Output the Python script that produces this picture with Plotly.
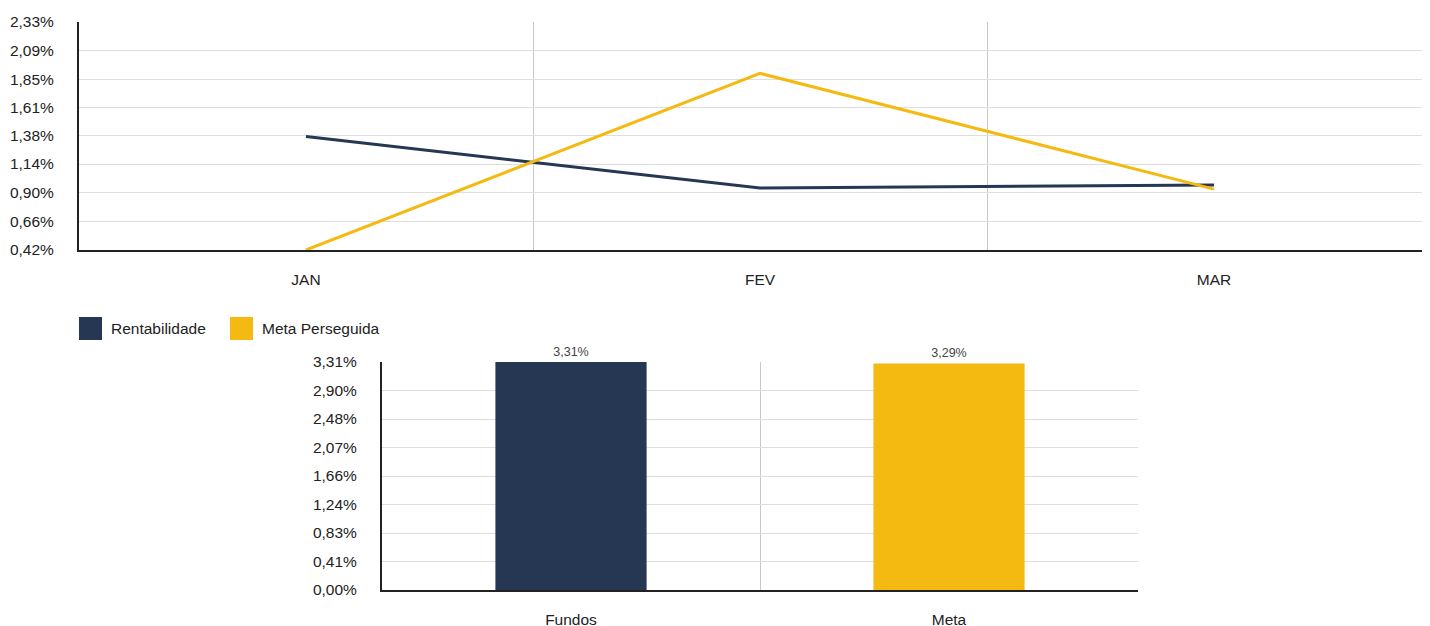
import plotly.graph_objects as go

months = ["JAN", "FEV", "MAR"]
rentabilidade = [1.37, 0.94, 0.965]
meta_perseguida = [0.42, 1.90, 0.93]

bar_categories = ["Fundos", "Meta"]
bar_values = [3.31, 3.29]
bar_labels = ["3,31%", "3,29%"]

series_names = ["Rentabilidade", "Meta Perseguida"]

top_ticks = [0.42, 0.66, 0.90, 1.14, 1.38, 1.61, 1.85, 2.09, 2.33]
top_tick_text = ["0,42%", "0,66%", "0,90%", "1,14%", "1,38%", "1,61%", "1,85%", "2,09%", "2,33%"]
bottom_ticks = [0.0, 0.41375, 0.8275, 1.24125, 1.655, 2.06875, 2.4825, 2.89625, 3.31]
bottom_tick_text = ["0,00%", "0,41%", "0,83%", "1,24%", "1,66%", "2,07%", "2,48%", "2,90%", "3,31%"]

NAVY = "#263754"
YELLOW = "#F4BA11"
GRID = "#dedede"
FONT = "Liberation Sans, Arial, sans-serif"
TICK_SIZE = 15.5

# page has an 8px body margin; positions below are expressed in page pixels
OFF = 8.0
W = 1430.0
H = 626.0


def px_x(x):
    return (x - OFF) / W


def px_y(y):
    return 1 - (y - OFF) / H


fig = go.Figure()

mx = list(range(len(months)))
fig.add_trace(go.Scatter(x=mx, y=rentabilidade, mode="lines", name=series_names[0],
                         line=dict(color=NAVY, width=3), showlegend=False,
                         xaxis="x", yaxis="y"))
fig.add_trace(go.Scatter(x=mx, y=meta_perseguida, mode="lines", name=series_names[1],
                         line=dict(color=YELLOW, width=3), showlegend=False,
                         xaxis="x", yaxis="y"))

bar_colors = [NAVY, YELLOW]
for i in range(len(bar_categories)):
    fig.add_trace(go.Bar(x=[i], y=[bar_values[i]], name=series_names[i],
                         marker=dict(color=bar_colors[i], line=dict(width=0)),
                         width=0.4, text=[bar_labels[i]], textposition="outside", cliponaxis=False,
                         textfont=dict(size=12.5, color="#444"), showlegend=False,
                         xaxis="x2", yaxis="y2"))

# legend drawn as shapes + text
shapes = []
annotations = []
legend_items = [(79, series_names[0], NAVY), (230, series_names[1], YELLOW)]
for lx, name, col in legend_items:
    shapes.append(dict(type="rect", xref="paper", yref="paper",
                       x0=px_x(lx), x1=px_x(lx + 23), y0=px_y(340), y1=px_y(317),
                       fillcolor=col, line=dict(width=0)))
    annotations.append(dict(xref="paper", yref="paper", x=px_x(lx + 30), y=px_y(328.5),
                            text=name, showarrow=False, xanchor="left", yanchor="middle",
                            font=dict(size=TICK_SIZE, color="#222")))

# top chart: categories spaced 454px from left edge at 79; plot runs past the window edge
top_left, top_right, cat_px = 79, 1438, 454.0
top_range = [-0.5, -0.5 + (top_right - top_left) / cat_px]

fig.update_layout(
    width=1430, height=626,
    margin=dict(l=0, r=0, t=0, b=0, autoexpand=False),
    paper_bgcolor="white", plot_bgcolor="white",
    font=dict(family=FONT, size=TICK_SIZE, color="#222"),
    barmode="overlay",
    showlegend=False,
    shapes=shapes,
    annotations=annotations,
    xaxis=dict(domain=[px_x(top_left), px_x(top_right)], range=top_range, tickvals=mx, ticktext=months,
               showgrid=False, zeroline=False, showline=True, linecolor="#222", linewidth=2,
               ticks="", ticklabelstandoff=14, anchor="y", automargin=False,
               minor=dict(tickvals=[0.5, 1.5], showgrid=True, gridcolor="#c8c8c8", gridwidth=1, ticks="")),
    yaxis=dict(domain=[px_y(250), px_y(22)], range=[0.42, 2.33], tickvals=top_ticks,
               ticktext=top_tick_text, showgrid=True, gridcolor=GRID, gridwidth=1,
               zeroline=False, showline=True, linecolor="#222", linewidth=2, ticks="",
               ticklabelstandoff=20, anchor="x", automargin=False),
    xaxis2=dict(domain=[px_x(382), px_x(1138)], range=[-0.5, 1.5], tickvals=[0, 1], ticktext=bar_categories,
                showgrid=False, zeroline=False, showline=True, linecolor="#222", linewidth=2,
                ticks="", ticklabelstandoff=14, anchor="y2", automargin=False,
                minor=dict(tickvals=[0.5, 1.5], showgrid=True, gridcolor="#c8c8c8", gridwidth=1, ticks="")),
    yaxis2=dict(domain=[px_y(590), px_y(362)], range=[0, 3.31], tickvals=bottom_ticks,
                ticktext=bottom_tick_text, showgrid=True, gridcolor=GRID, gridwidth=1,
                zeroline=False, showline=True, linecolor="#222", linewidth=2, ticks="",
                ticklabelstandoff=20, anchor="x2", automargin=False),
)

fig.write_html("out.html", config={"responsive": False})
